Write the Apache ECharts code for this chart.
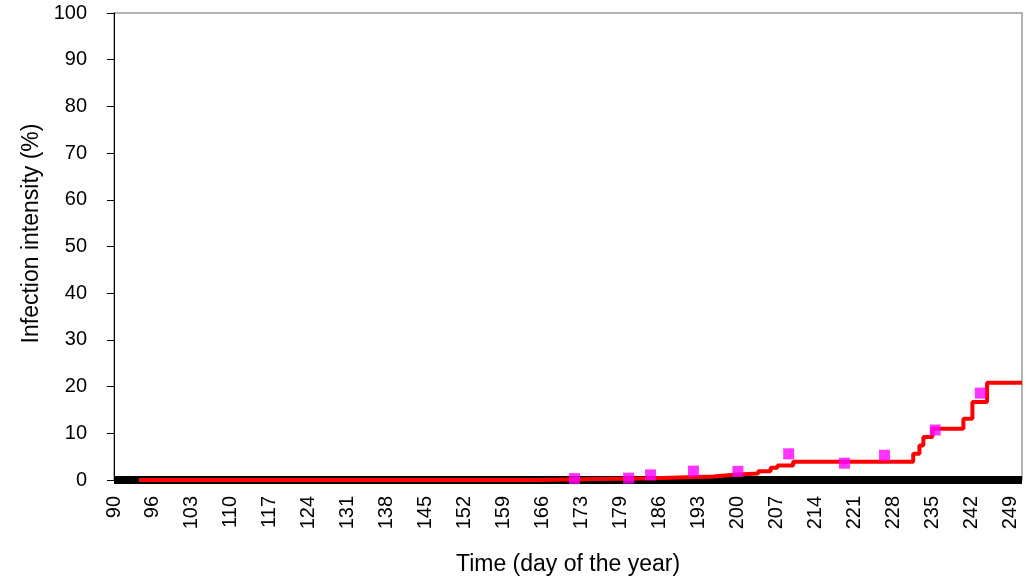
<!DOCTYPE html>
<html>
<head>
<meta charset="utf-8">
<title>Infection intensity over time</title>
<script src="https://cdn.jsdelivr.net/npm/echarts@6/dist/echarts.min.js"></script>
<style>
  html, body { margin: 0; padding: 0; background: #fff; }
  #chart { width: 1032px; height: 581px; }
</style>
</head>
<body>
<div id="chart"></div>
<script>
// Day-of-year labels printed under the time axis (evenly spaced)
const tickLabels = ['90', '96', '103', '110', '117', '124', '131', '138', '145', '152', '159', '166',
                    '173', '179', '186', '193', '200', '207', '214', '221', '228', '235', '242', '249'];

// Simulated infection intensity: each value holds from its day until the next day
const modelDays      = [94.4, 164.4, 176.0, 185.7, 196.4, 199.9, 204.3, 206.5, 207.7, 210.5,
                        231.8, 232.9, 233.6, 235.2, 240.7, 242.3, 244.9, 251.1];
const modelIntensity = [0, 0.2, 0.35, 0.75, 1.1, 1.4, 1.9, 2.6, 3.1, 3.9,
                        5.6, 7.4, 9.2, 11.0, 13.1, 16.7, 20.8, 20.8];

// Field observations
const obsDays      = [171.7, 181.3, 185.2, 192.8, 200.7, 209.7, 219.6, 226.7, 235.7, 243.7];
const obsIntensity = [0.3, 0.4, 1.1, 1.9, 1.85, 5.6, 3.6, 5.3, 10.7, 18.6];

const firstDay = 90;
const labelStep = (249 - 90) / (tickLabels.length - 1);
const lastDay = 251.1;

const FONT = 'Liberation Sans, Arial, sans-serif';

const chart = echarts.init(document.getElementById('chart'), null, { renderer: 'canvas' });

chart.setOption({
  backgroundColor: '#ffffff',
  animation: false,
  grid: {
    left: 114, right: 10, top: 13, bottom: 100,
    show: true, borderColor: '#9a9a9a', borderWidth: 1.5, backgroundColor: 'transparent'
  },
  xAxis: {
    type: 'value',
    min: firstDay, max: lastDay, interval: labelStep,
    offset: 4,
    z: 1,
    name: 'Time (day of the year)',
    nameLocation: 'middle', nameGap: 69,
    nameTextStyle: { fontFamily: FONT, fontSize: 23, color: '#000' },
    axisLine: { show: true, lineStyle: { color: '#000', width: 8, cap: 'butt' } },
    axisTick: { show: false },
    splitLine: { show: false },
    axisLabel: {
      rotate: 90, margin: 12, showMaxLabel: true,
      fontFamily: FONT, fontSize: 20, color: '#000',
      formatter: function (v) {
        const k = (v - firstDay) / labelStep;
        const i = Math.round(k);
        if (Math.abs(k - i) > 0.05 || i < 0 || i >= tickLabels.length) return '';
        return tickLabels[i];
      }
    }
  },
  yAxis: {
    type: 'value',
    min: 0, max: 100, interval: 10,
    name: 'Infection intensity (%)',
    nameLocation: 'middle', nameGap: 70,
    nameTextStyle: { fontFamily: FONT, fontSize: 23, color: '#000', padding: [0, 0, 0, 26] },
    axisLine: { show: true, lineStyle: { color: '#000', width: 1 } },
    axisTick: { show: true, inside: false, length: 7, lineStyle: { color: '#000', width: 1 } },
    splitLine: { show: false },
    axisLabel: { margin: 27, fontFamily: FONT, fontSize: 20, color: '#000' }
  },
  series: [
    {
      name: 'Model',
      type: 'line',
      step: 'end',
      data: modelDays.map((d, i) => [d, modelIntensity[i]]),
      showSymbol: false,
      lineStyle: { color: '#ff0000', width: 4 },
      itemStyle: { color: '#ff0000' },
      z: 5
    },
    {
      name: 'Observed',
      type: 'scatter',
      data: obsDays.map((d, i) => [d, obsIntensity[i]]),
      symbol: 'rect',
      symbolSize: 11,
      itemStyle: { color: '#ff00ff' },
      z: 6
    }
  ]
});
</script>
</body>
</html>
